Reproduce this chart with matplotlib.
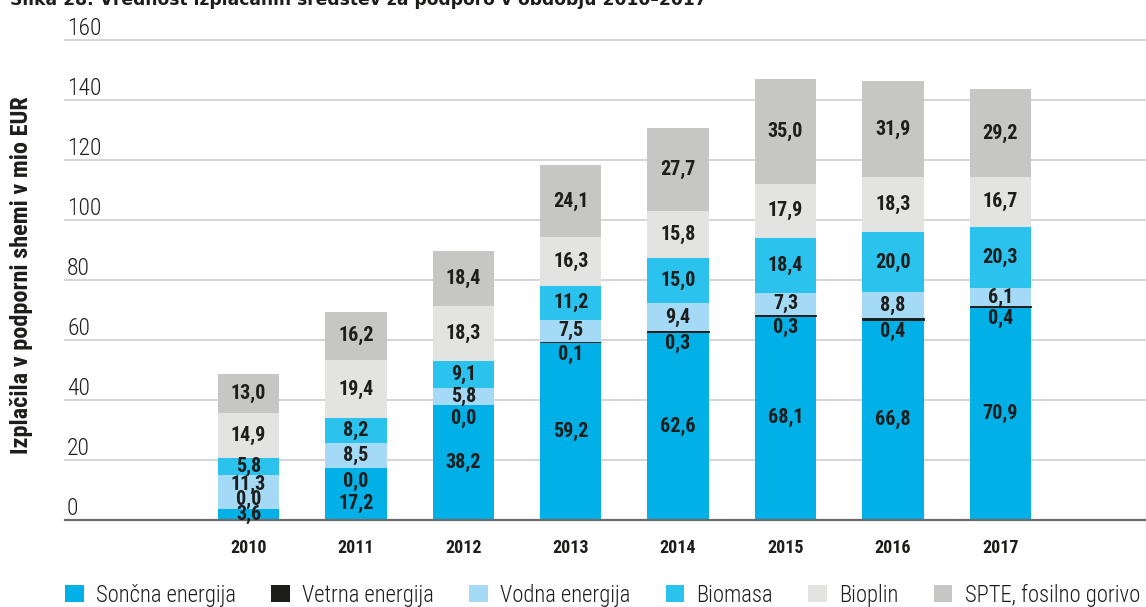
import matplotlib
matplotlib.use("Agg")
import matplotlib.pyplot as plt
from matplotlib.patches import Patch
from matplotlib import font_manager as fm
import numpy as np

# ---------------- data ----------------
years = ["2010", "2011", "2012", "2013", "2014", "2015", "2016", "2017"]
series_names = ["Sončna energija", "Vetrna energija", "Vodna energija",
                "Biomasa", "Bioplin", "SPTE, fosilno gorivo"]
soncna = [3.6, 17.2, 38.2, 59.2, 62.6, 68.1, 66.8, 70.9]
vetrna = [0.0, 0.0, 0.0, 0.1, 0.3, 0.3, 0.4, 0.4]
vodna = [11.3, 8.5, 5.8, 7.5, 9.4, 7.3, 8.8, 6.1]
biomasa = [5.8, 8.2, 9.1, 11.2, 15.0, 18.4, 20.0, 20.3]
bioplin = [14.9, 19.4, 18.3, 16.3, 15.8, 17.9, 18.3, 16.7]
spte = [13.0, 16.2, 18.4, 24.1, 27.7, 35.0, 31.9, 29.2]
yticks = [0, 20, 40, 60, 80, 100, 120, 140, 160]
ylabel = "Izplačila v podporni shemi v mio EUR"
title = "Slika 28: Vrednost izplačanih sredstev za podporo v obdobju 2010–2017"

colors = ["#00b0e7", "#1d1d1b", "#a5daf6", "#2bc2ee", "#e3e3e2", "#c6c6c5"]

# ---------------- fonts ----------------
names = {f.name for f in fm.fontManager.ttflist}
cond = "DejaVu Sans"
for cand in ["Roboto Condensed", "Liberation Sans Narrow", "Open Sans Condensed"]:
    if cand in names:
        cond = cand
        break
FAM = [cond, "DejaVu Sans"]
plt.rcParams["font.family"] = FAM
plt.rcParams["font.stretch"] = "condensed"
TXT = "#1d1d1b"

W, H = 1146, 607
fig = plt.figure(figsize=(W / 100, H / 100), dpi=100)
ax = fig.add_axes([65 / W, (H - 520) / H, (W - 65) / W, 480 / H])

data = [soncna, vetrna, vodna, biomasa, bioplin, spte]
x = np.arange(len(years))
bw = 0.57
bottom = np.zeros(len(years))
segs = []
for i, (vals, c) in enumerate(zip(data, colors)):
    vals = np.array(vals)
    if i == 1:
        lw = [0.7 if v > 0 else 0 for v in vals]
        ax.bar(x, vals, bw, bottom=bottom, color=c, edgecolor=c, linewidth=lw, zorder=3)
    else:
        ax.bar(x, vals, bw, bottom=bottom, color=c, linewidth=0, zorder=2)
    segs.append((bottom.copy(), vals.copy()))
    bottom = bottom + vals

# ---------------- labels with simple collision avoidance ----------------
sep = 5.0
for j in range(len(years)):
    ys = []
    for i in range(len(data)):
        b, v = segs[i][0][j], segs[i][1][j]
        if i == 1:
            yc = b + v - 4.2
            if ys and yc - ys[0] < sep:
                ys[0] = max(min(ys[0], yc - 7.5), min(ys[0], 2.0))
            yc = max(yc, ys[0] + sep)
        else:
            yc = b + v / 2
            if ys:
                yc = max(yc, ys[-1] + sep)
        ys.append(yc)
    for i, yc in enumerate(ys):
        v = segs[i][1][j]
        ax.text(x[j], yc, f"{v:.1f}".replace(".", ","), ha="center", va="center",
                fontsize=14.5, fontweight="bold", color=TXT, zorder=5, family=FAM)

# ---------------- axes styling ----------------
ax.set_xlim((65 - 248.5) / 107.4, (1146 - 248.5) / 107.4)
ax.set_ylim(0, 160)
ax.set_yticks(yticks)
ax.set_yticklabels([str(t) for t in yticks], fontweight="light")
ax.tick_params(axis="y", length=0, pad=-1.5, labelsize=17, labelcolor=TXT)
for t in ax.get_yticklabels():
    t.set_horizontalalignment("left")
    t.set_verticalalignment("bottom")
ax.set_xticks(x)
ax.set_xticklabels(years, fontweight="bold")
ax.tick_params(axis="x", length=0, pad=14, labelsize=13, labelcolor=TXT)
ax.grid(axis="y", color="#d2d2d2", linewidth=1.3, zorder=0)
for l in ax.get_ygridlines():
    l.set_clip_on(False)
for s in ["top", "right", "left"]:
    ax.spines[s].set_visible(False)
ax.spines["bottom"].set_color("#6b6b6b")
ax.spines["bottom"].set_linewidth(1.6)
ax.spines["bottom"].set_zorder(4)

fig.text(22 / W, (H - 275) / H, ylabel, rotation=90, ha="center", va="center",
         fontsize=17.5, fontweight="bold", color=TXT, family=FAM)
fig.text(10 / W, 1 - 5 / H, title, ha="left", va="baseline", fontsize=12.3,
         fontweight="bold", color=TXT, family="DejaVu Sans", stretch="normal")

handles = [Patch(facecolor=c, edgecolor="none") for c in colors]
leg = fig.legend(handles, series_names, loc="center left", ncol=6,
                 bbox_to_anchor=(65 / W, (H - 595) / H), frameon=False,
                 handlelength=0.82, handleheight=0.82,
                 handletextpad=0.55, columnspacing=1.55, borderpad=0, borderaxespad=0,
                 labelcolor=TXT, prop=dict(family=FAM, weight="light", size=16.3))

fig.savefig("out.png", dpi=100)
